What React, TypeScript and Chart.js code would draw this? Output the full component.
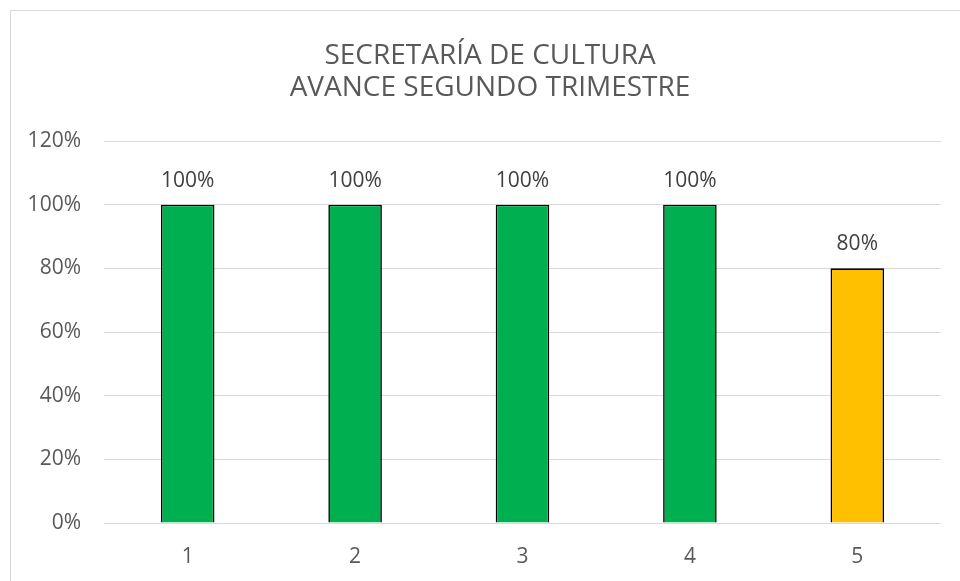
import React, { useEffect, useRef } from "react";
import { Chart, registerables } from "chart.js";

Chart.register(...registerables);

const categories = ["1", "2", "3", "4", "5"];
const values = [100, 100, 100, 100, 80];
const barColors = ["#00B050", "#00B050", "#00B050", "#00B050", "#FFC000"];
const titleLines = ["SECRETARÍA DE CULTURA", "AVANCE SEGUNDO TRIMESTRE"];
const yMax = 120;
const yStep = 20;

const FONT = "'Open Sans', 'Liberation Sans', sans-serif";

const borderPlugin = {
  id: "outerBorder",
  beforeDraw(chart: any) {
    const ctx = chart.ctx;
    ctx.save();
    ctx.fillStyle = "#ffffff";
    ctx.fillRect(0, 0, chart.width, chart.height);
    ctx.strokeStyle = "#d9d9d9";
    ctx.lineWidth = 1;
    ctx.strokeRect(10.5, 10.5, chart.width + 20, chart.height + 20);
    // title, centred on the chart frame
    ctx.font = `28px ${FONT}`;
    ctx.fillStyle = "#595959";
    ctx.textAlign = "center";
    ctx.textBaseline = "middle";
    titleLines.forEach((t, i) => {
      ctx.fillText(t, 490, 56 + i * 32);
    });
    ctx.restore();
  },
};

const labelPlugin = {
  id: "barLabels",
  afterDatasetsDraw(chart: any) {
    const ctx = chart.ctx;
    const meta = chart.getDatasetMeta(0);
    ctx.save();
    ctx.font = `21px ${FONT}`;
    ctx.fillStyle = "#404040";
    ctx.textAlign = "center";
    ctx.textBaseline = "middle";
    meta.data.forEach((bar: any, i: number) => {
      ctx.fillText(`${values[i]}%`, bar.x, bar.y - 24);
    });
    ctx.restore();
  },
};

export default function App() {
  const ref = useRef<HTMLCanvasElement>(null);
  useEffect(() => {
    if (!ref.current) return;
    const chart = new Chart(ref.current, {
      type: "bar",
      data: {
        labels: categories,
        datasets: [
          {
            data: values,
            backgroundColor: barColors,
            borderColor: "#000000",
            borderWidth: 1.6,
            barPercentage: 0.32,
            categoryPercentage: 1,
          },
        ],
      },
      options: {
        animation: false,
        responsive: false,
        maintainAspectRatio: false,
        layout: { padding: { top: 141, right: 19, bottom: 0, left: 0 } },
        plugins: {
          legend: { display: false },
          tooltip: { enabled: false },
          title: { display: false },
        },
        scales: {
          x: {
            grid: { display: false },
            border: { display: false },
            ticks: {
              color: "#595959",
              font: { family: FONT, size: 21 },
              padding: 13,
            },
            afterFit: (s: any) => {
              s.height = 58;
            },
          },
          y: {
            min: 0,
            max: yMax,
            grid: { color: "#d9d9d9", lineWidth: 1, drawTicks: false },
            border: { display: false },
            ticks: {
              stepSize: yStep,
              color: "#595959",
              font: { family: FONT, size: 21 },
              padding: 23,
              callback: (v: any) => `${v}%`,
            },
            afterFit: (s: any) => {
              s.width = 104;
            },
          },
        },
      },
      plugins: [borderPlugin, labelPlugin],
    });
    return () => chart.destroy();
  }, []);
  return (
    <div style={{ position: "fixed", left: 0, top: 0, width: 960, height: 581, background: "#fff" }}>
      <canvas ref={ref} width={960} height={581} style={{ width: 960, height: 581, display: "block" }} />
    </div>
  );
}
